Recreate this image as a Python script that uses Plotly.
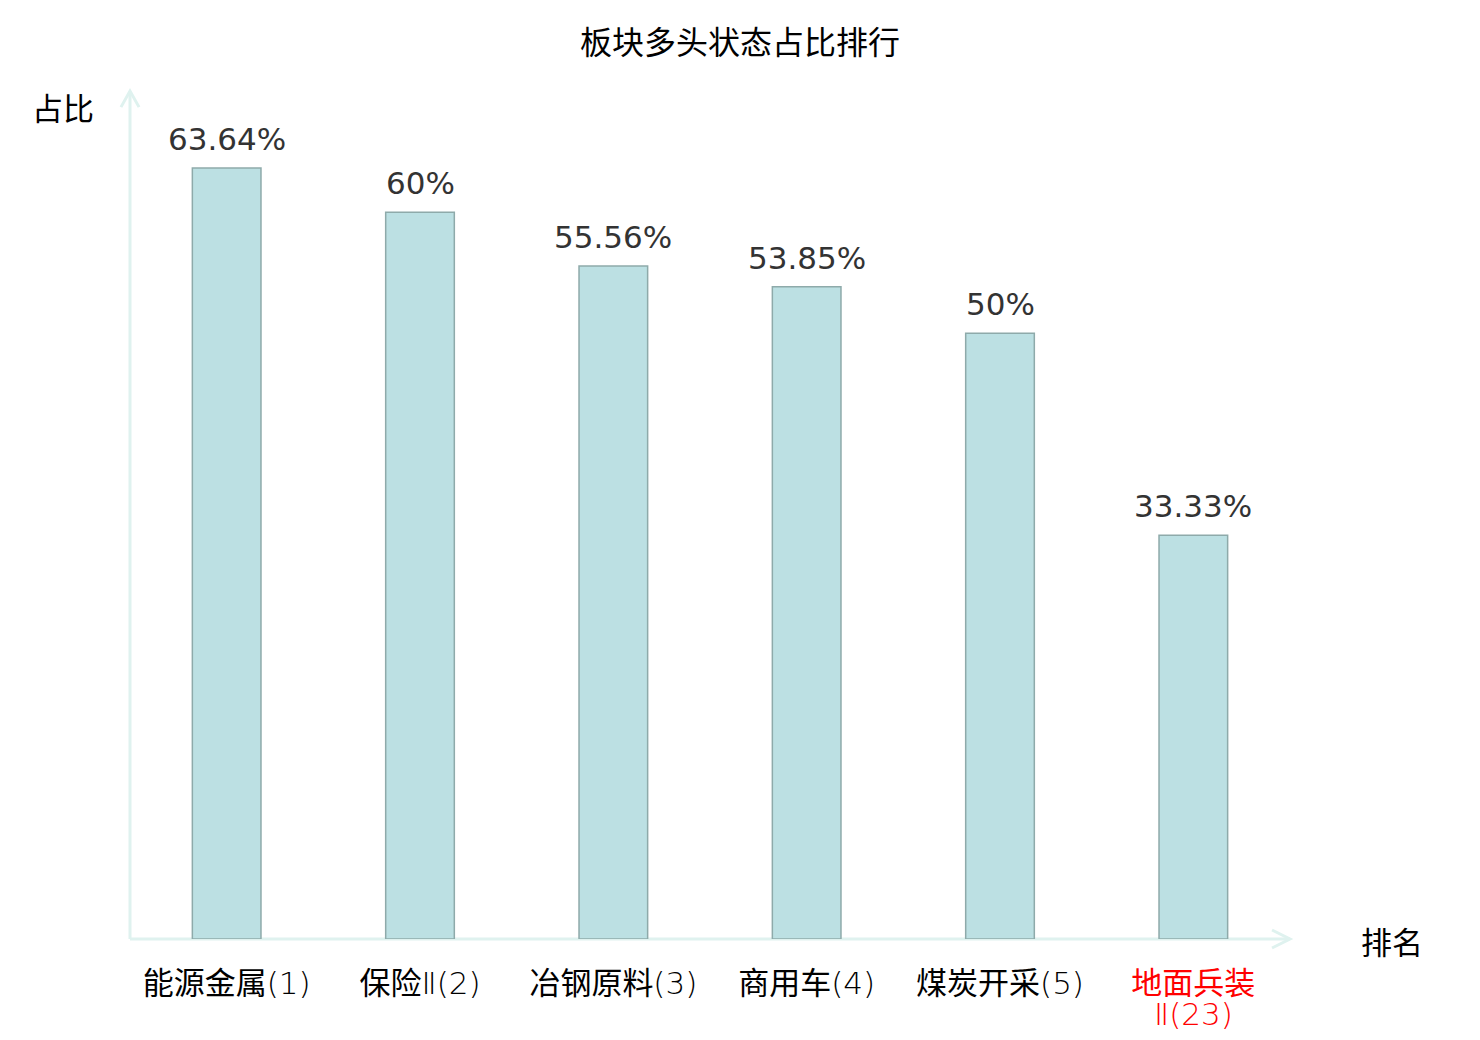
import plotly.graph_objects as go

cat_names = ["能源金属", "保险", "冶钢原料", "商用车", "煤炭开采", "地面兵装"]
cat_suffix = ["(1)", "Ⅱ(2)", "(3)", "(4)", "(5)", "Ⅱ(23)"]
values = [63.64, 60, 55.56, 53.85, 50, 33.33]
value_labels = ["63.64%", "60%", "55.56%", "53.85%", "50%", "33.33%"]
tick_colors = ["#000000", "#000000", "#000000", "#000000", "#000000", "#ff0000"]
line_breaks = [False, False, False, False, False, True]

CJK = "Noto Sans CJK SC"
axis_color = "#dff2ef"

ticktext = []
for n, s, c, br in zip(cat_names, cat_suffix, tick_colors, line_breaks):
    sep = "<br>" if br else ""
    ticktext.append(
        f"<span style='color:{c};font-size:31px'>{n}{sep}"
        f"<span style='font-family:DejaVu Sans;font-weight:200'>{s}</span></span>"
    )

xs = list(range(len(cat_names)))
fig = go.Figure()
fig.add_trace(go.Bar(
    x=xs,
    y=values,
    marker=dict(color="#bce0e3", line=dict(color="#8eaaaa", width=1.5)),
    width=0.355,
    hoverinfo="skip",
))
for x, v, lab in zip(xs, values, value_labels):
    fig.add_annotation(x=x, y=v, text=lab, showarrow=False, xanchor="center",
                       yanchor="middle", yshift=29,
                       font=dict(family="DejaVu Sans", size=31, color="#333333"))

# figure is offset 8px by the page body margin; compensate
L, R, T, B = 122, 198, 83, 109
fig.update_layout(
    width=1480, height=1040,
    margin=dict(l=L, r=R, t=T, b=B, autoexpand=False),
    paper_bgcolor="white", plot_bgcolor="white",
    showlegend=False,
    title=dict(text="板块多头状态占比排行", x=0.4946, xanchor="center",
               y=0.967, yanchor="middle",
               font=dict(family=CJK, size=32, color="#000000")),
    xaxis=dict(range=[-0.5, 5.5], tickmode="array", tickvals=xs,
               ticktext=ticktext, showgrid=False, zeroline=False, showline=False, automargin=False,
               ticks="", tickfont=dict(family=CJK, size=24, color="#000000"), ticklabelstandoff=30),
    yaxis=dict(range=[0, 70], showgrid=False, zeroline=False, showline=False, automargin=False,
               showticklabels=False, ticks=""),
    font=dict(family=CJK),
)

shapes = [
    dict(type="line", xref="paper", yref="paper", x0=0, y0=0, x1=1, y1=0,
         line=dict(color=axis_color, width=3), layer="below"),
    dict(type="line", xref="paper", yref="paper", x0=0, y0=0, x1=0, y1=1,
         line=dict(color=axis_color, width=3), layer="below"),
    dict(type="path", xref="paper", yref="paper",
         path="M 0.9845 0.0106 L 1 0 L 0.9845 -0.0106",
         line=dict(color=axis_color, width=3)),
    dict(type="path", xref="paper", yref="paper",
         path="M -0.0078 0.981 L 0 1 L 0.0078 0.981",
         line=dict(color=axis_color, width=3)),
]
fig.update_layout(shapes=shapes)

fig.add_annotation(text="占比", xref="paper", yref="paper", x=-0.0578, y=0.982,
                   xanchor="center", yanchor="middle", showarrow=False,
                   font=dict(family=CJK, size=31, color="#000000"))
fig.add_annotation(text="排名", xref="paper", yref="paper", x=1.088, y=-0.002,
                   xanchor="center", yanchor="middle", showarrow=False,
                   font=dict(family=CJK, size=31, color="#000000"))

fig.write_html("out.html")
